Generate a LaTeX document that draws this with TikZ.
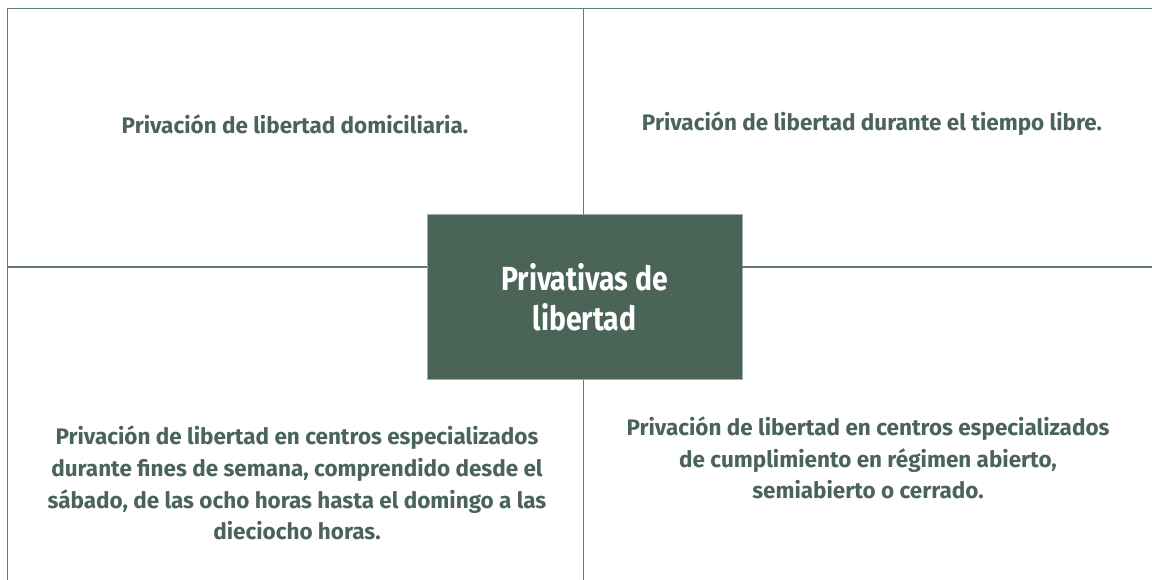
\documentclass[tikz,border=0pt]{standalone}
\usepackage{fontspec}
\setmainfont{Fira Sans}
\newfontfamily\titlefont{Fira Sans}[FakeStretch=0.85]
\usepackage{tikz}
\usetikzlibrary{calc}
\definecolor{GreenDefault}{HTML}{4A6458}
\definecolor{GreenLine}{HTML}{5F7A6F}

\begin{document}
\begin{tikzpicture}[x=0.02cm,y=-0.02cm,
    frame/.style={GreenLine, line width=0.8pt},
    item/.style={text=GreenDefault, align=center, font=\bfseries\fontsize{12.8}{18}\selectfont},
    centre/.style={fill=GreenDefault, draw=GreenLine!60, text=white, align=center, minimum width=315*0.02cm, minimum height=165*0.02cm, inner sep=0pt, font=\titlefont\bfseries\fontsize{19}{23}\selectfont}]
    \useasboundingbox (0,0) rectangle (1152,580);
    %%Centre
    \node[centre] (main) at (584.5,297) {Privativas de\\libertad};
    %%Frame
    \coordinate (tl) at (7.5,8.5);
    \coordinate (tr) at (1152,8.5);
    \coordinate (bl) at (7.5,580);
    \coordinate (ml) at (7.5,267);
    \coordinate (mr) at (1152,267);
    \coordinate (mt) at (583.5,8.5);
    \coordinate (mb) at (583.5,580);
    \draw[frame] (bl) to (tl) to (tr);
    \draw[frame] (ml) to (ml -| main.west);
    \draw[frame] (main.east |- mr) to (mr);
    \draw[frame] (mt) to (mt |- main.north);
    \draw[frame] (mb |- main.south) to (mb);
    %%Items
    \node[item] (home) at (295,124) {Privación de libertad domiciliaria.};
    \node[item] (free) at (872,124) {Privación de libertad durante el tiempo libre.};
    \node[item] (weekend) at (297,483) {Privación de libertad en centros especializados\\durante fines de semana, comprendido desde el\\sábado, de las ocho horas hasta el domingo a las\\dieciocho horas.};
    \node[item] (regime) at (868,458) {Privación de libertad en centros especializados\\de cumplimiento en régimen abierto,\\semiabierto o cerrado.};
\end{tikzpicture}
\end{document}
